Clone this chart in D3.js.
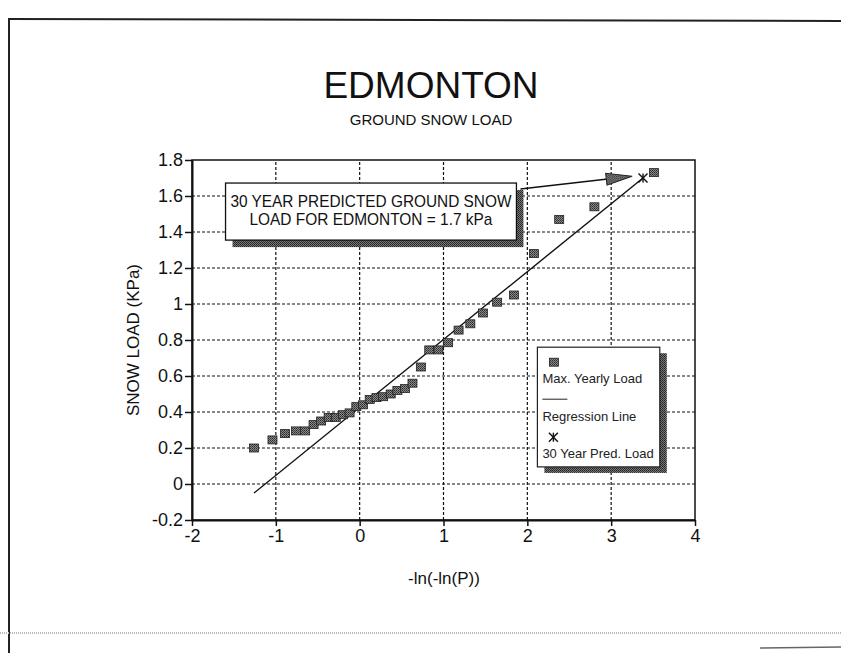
<!DOCTYPE html>
<html>
<head>
<meta charset="utf-8">
<script src="https://cdn.jsdelivr.net/npm/d3@7"></script>
<style>
  body { margin: 0; background: #fff; }
  text { font-family: "Liberation Sans", Arial, Helvetica, sans-serif; fill: #111; }
</style>
</head>
<body>
<div id="chart"></div>
<script>
// Max. yearly ground snow load vs. -ln(-ln(P))
var loadX = [-1.26, -1.04, -0.89, -0.76, -0.65, -0.55, -0.46, -0.37, -0.285, -0.20, -0.12,
             -0.04, 0.04, 0.12, 0.20, 0.28, 0.37, 0.45, 0.54, 0.63, 0.73, 0.83, 0.94,
             1.055, 1.18, 1.32, 1.47, 1.64, 1.84, 2.08, 2.38, 2.80, 3.51];
var loadY = [0.20, 0.245, 0.28, 0.295, 0.295, 0.33, 0.35, 0.37, 0.37, 0.385, 0.395,
             0.43, 0.44, 0.47, 0.48, 0.485, 0.50, 0.52, 0.53, 0.56, 0.65, 0.745, 0.745,
             0.785, 0.855, 0.89, 0.95, 1.01, 1.05, 1.28, 1.47, 1.54, 1.73];

// regression line end points
var regX = [-1.26, 3.38];
var regY = [-0.05, 1.70];

// 30 year predicted load
var predX = [3.38];
var predY = [1.70];

var xTicks = [-2, -1, 0, 1, 2, 3, 4];
var xTickLabels = ["-2", "-1", "0", "1", "2", "3", "4"];
var yTicks = [-0.2, 0, 0.2, 0.4, 0.6, 0.8, 1, 1.2, 1.4, 1.6, 1.8];
var yTickLabels = ["-0.2", "0", "0.2", "0.4", "0.6", "0.8", "1", "1.2", "1.4", "1.6", "1.8"];

var legendLabels = ["Max. Yearly Load", "Regression Line", "30 Year Pred. Load"];
var noteLines = ["30 YEAR PREDICTED GROUND SNOW", "LOAD FOR EDMONTON = 1.7 kPa"];

var width = 841, height = 653,
    margin = {top: 160, right: 146, bottom: 133, left: 192};

var svg = d3.select("#chart").append("svg")
    .attr("width", width)
    .attr("height", height);

// hatched fills used by the markers and drop shadows
var defs = svg.append("defs");
var pat = defs.append("pattern").attr("id", "hatch")
    .attr("width", 2).attr("height", 2).attr("patternUnits", "userSpaceOnUse");
pat.append("rect").attr("width", 2).attr("height", 2).attr("fill", "#8a8a8a");
pat.append("rect").attr("width", 1).attr("height", 1).attr("fill", "#2a2a2a");
pat.append("rect").attr("x", 1).attr("y", 1).attr("width", 1).attr("height", 1).attr("fill", "#444");

var pat2 = defs.append("pattern").attr("id", "shade")
    .attr("width", 2).attr("height", 2).attr("patternUnits", "userSpaceOnUse");
pat2.append("rect").attr("width", 2).attr("height", 2).attr("fill", "#777");
pat2.append("rect").attr("width", 1).attr("height", 1).attr("fill", "#222");
pat2.append("rect").attr("x", 1).attr("y", 1).attr("width", 1).attr("height", 1).attr("fill", "#333");

// page frame
svg.append("line").attr("x1", 8).attr("y1", 19).attr("x2", 841).attr("y2", 21)
    .style("stroke", "#222").style("stroke-width", 2);
svg.append("line").attr("x1", 9).attr("y1", 19).attr("x2", 9).attr("y2", 653)
    .style("stroke", "#222").style("stroke-width", 2);
svg.append("line").attr("x1", 0).attr("y1", 633).attr("x2", 841).attr("y2", 633)
    .style("stroke", "#bbb").style("stroke-width", 2).style("stroke-dasharray", "1,1");
svg.append("line").attr("x1", 760).attr("y1", 648).attr("x2", 841).attr("y2", 647)
    .style("stroke", "#666").style("stroke-width", 1.5);

// titles
svg.append("text").attr("x", 431).attr("y", 98).attr("text-anchor", "middle")
    .style("font-size", "37px").text("EDMONTON");
svg.append("text").attr("x", 431).attr("y", 125).attr("text-anchor", "middle")
    .style("font-size", "15px").text("GROUND SNOW LOAD");

var x = d3.scaleLinear().domain([-2, 4]).range([margin.left, width - margin.right]);
var y = d3.scaleLinear().domain([-0.2, 1.8]).range([height - margin.bottom, margin.top]);

var plot = svg.append("g");

// horizontal grid
plot.selectAll(".hgrid")
    .data(yTicks.slice(1, -1))
    .enter().append("line")
    .attr("class", "hgrid")
    .attr("x1", x(-2)).attr("x2", x(4))
    .attr("y1", function(d) { return y(d); })
    .attr("y2", function(d) { return y(d); })
    .style("stroke", "#111").style("stroke-width", 1.2).style("stroke-dasharray", "3,2");

// legend box (vertical grid shows through it in the original)
var lg = svg.append("g");
var lgX0 = x(2.12), lgY0 = y(0.76), lgX1 = x(3.58), lgY1 = y(0.095);
lg.append("rect").attr("x", lgX0 + 7).attr("y", lgY0 + 6)
    .attr("width", lgX1 - lgX0).attr("height", lgY1 - lgY0)
    .style("fill", "url(#shade)");
lg.append("rect").attr("x", lgX0).attr("y", lgY0)
    .attr("width", lgX1 - lgX0).attr("height", lgY1 - lgY0)
    .style("fill", "#fff").style("stroke", "#222").style("stroke-width", 1.2);

// vertical grid
plot.selectAll(".vgrid")
    .data(xTicks.slice(1, -1))
    .enter().append("line")
    .attr("class", "vgrid")
    .attr("y1", y(-0.2)).attr("y2", y(1.8))
    .attr("x1", function(d) { return x(d); })
    .attr("x2", function(d) { return x(d); })
    .style("stroke", "#111").style("stroke-width", 1.2).style("stroke-dasharray", "3,2");

// legend contents
lg.append("rect").attr("x", lgX0 + 12).attr("y", lgY0 + 11).attr("width", 9).attr("height", 8)
    .style("fill", "url(#hatch)").style("stroke", "#222").style("stroke-width", 0.8);
lg.append("line").attr("x1", lgX0 + 5).attr("x2", lgX0 + 30)
    .attr("y1", lgY0 + 52).attr("y2", lgY0 + 52)
    .style("stroke", "#222").style("stroke-width", 1);
lg.selectAll(".lgtext")
    .data(legendLabels)
    .enter().append("text")
    .attr("class", "lgtext")
    .attr("x", lgX0 + 5)
    .attr("y", function(d, i) { return lgY0 + 36 + i * 37.5; })
    .style("font-size", "13px").style("fill", "#222")
    .text(function(d) { return d; });

// frame of plot area
plot.append("rect")
    .attr("x", x(-2)).attr("y", y(1.8))
    .attr("width", x(4) - x(-2)).attr("height", y(-0.2) - y(1.8))
    .style("fill", "none").style("stroke", "#111").style("stroke-width", 1.5);

// axes
var xAxis = d3.axisBottom(x).tickValues(xTicks)
    .tickFormat(function(d, i) { return xTickLabels[i]; })
    .tickSizeInner(6).tickSizeOuter(0).tickPadding(3);
var yAxis = d3.axisLeft(y).tickValues(yTicks)
    .tickFormat(function(d, i) { return yTickLabels[i]; })
    .tickSizeInner(7).tickSizeOuter(0).tickPadding(2);

var gx = svg.append("g").attr("transform", "translate(0," + y(-0.2) + ")").call(xAxis);
var gy = svg.append("g").attr("transform", "translate(" + x(-2) + ",0)").call(yAxis);
[gx, gy].forEach(function(g) {
    g.select(".domain").style("stroke", "#111").style("stroke-width", 2);
    g.selectAll(".tick line").style("stroke", "#111").style("stroke-width", 1.5);
    g.selectAll(".tick text").style("font-size", "18px").style("fill", "#111")
        .style("font-family", "'Liberation Sans', Arial, sans-serif");
});

svg.append("text")
    .attr("x", 444).attr("y", 584).attr("text-anchor", "middle")
    .style("font-size", "17px").text("-ln(-ln(P))");
svg.append("text")
    .attr("transform", "translate(139," + ((y(-0.2) + y(1.8)) / 2) + ") rotate(-90)")
    .attr("text-anchor", "middle")
    .style("font-size", "17px").text("SNOW LOAD (KPa)");

// regression line
var line = d3.line()
    .x(function(d) { return x(d[0]); })
    .y(function(d) { return y(d[1]); });
plot.append("path")
    .datum(d3.zip(regX, regY))
    .attr("d", line)
    .style("fill", "none").style("stroke", "#111").style("stroke-width", 1.4);

// yearly maxima
plot.selectAll(".pt")
    .data(d3.zip(loadX, loadY))
    .enter().append("rect")
    .attr("class", "pt")
    .attr("x", function(d) { return x(d[0]) - 4.5; })
    .attr("y", function(d) { return y(d[1]) - 4; })
    .attr("width", 9).attr("height", 8)
    .style("fill", "url(#hatch)").style("stroke", "#222").style("stroke-width", 0.8);

// star marker
function star(sel, cx, cy, r) {
    var g = sel.append("g").attr("transform", "translate(" + cx + "," + cy + ")");
    [[-r, -r, r, r], [-r, r, r, -r], [0, -r, 0, r]].forEach(function(s) {
        g.append("line").attr("x1", s[0]).attr("y1", s[1]).attr("x2", s[2]).attr("y2", s[3])
            .style("stroke", "#111").style("stroke-width", 1.4);
    });
}
d3.zip(predX, predY).forEach(function(d) { star(plot, x(d[0]), y(d[1]), 4.5); });
star(lg, lgX0 + 16, lgY0 + 90, 4.5);

// annotation box with arrow
var nb = svg.append("g");
var nX0 = x(-1.6), nY0 = y(1.672), nX1 = x(1.87), nY1 = y(1.355);
nb.append("rect").attr("x", nX0 + 7).attr("y", nY0 + 7)
    .attr("width", nX1 - nX0).attr("height", nY1 - nY0)
    .style("fill", "url(#shade)");
nb.append("rect").attr("x", nX0).attr("y", nY0)
    .attr("width", nX1 - nX0).attr("height", nY1 - nY0)
    .style("fill", "#fff").style("stroke", "#111").style("stroke-width", 1.3);
nb.selectAll(".note")
    .data(noteLines)
    .enter().append("text")
    .attr("class", "note")
    .attr("x", (nX0 + nX1) / 2)
    .attr("y", function(d, i) { return nY0 + 24 + i * 18; })
    .attr("text-anchor", "middle")
    .attr("textLength", function(d, i) { return i === 0 ? 281 : 243; })
    .attr("lengthAdjust", "spacingAndGlyphs")
    .style("font-size", "17px")
    .text(function(d) { return d; });

var ax0 = nX1 + 4, ay0 = nY0 + 6, ax1 = x(3.25), ay1 = y(1.71);
nb.append("line").attr("x1", ax0).attr("y1", ay0).attr("x2", ax1 - 20).attr("y2", ay1 + 2.4)
    .style("stroke", "#111").style("stroke-width", 1.5);
var ang = Math.atan2(ay1 - ay0, ax1 - ax0) * 180 / Math.PI;
nb.append("path")
    .attr("transform", "translate(" + ax1 + "," + ay1 + ") rotate(" + ang + ")")
    .attr("d", "M0,0 L-26,-6 L-26,6 Z")
    .style("fill", "url(#hatch)").style("stroke", "#222").style("stroke-width", 1);
</script>
</body>
</html>
